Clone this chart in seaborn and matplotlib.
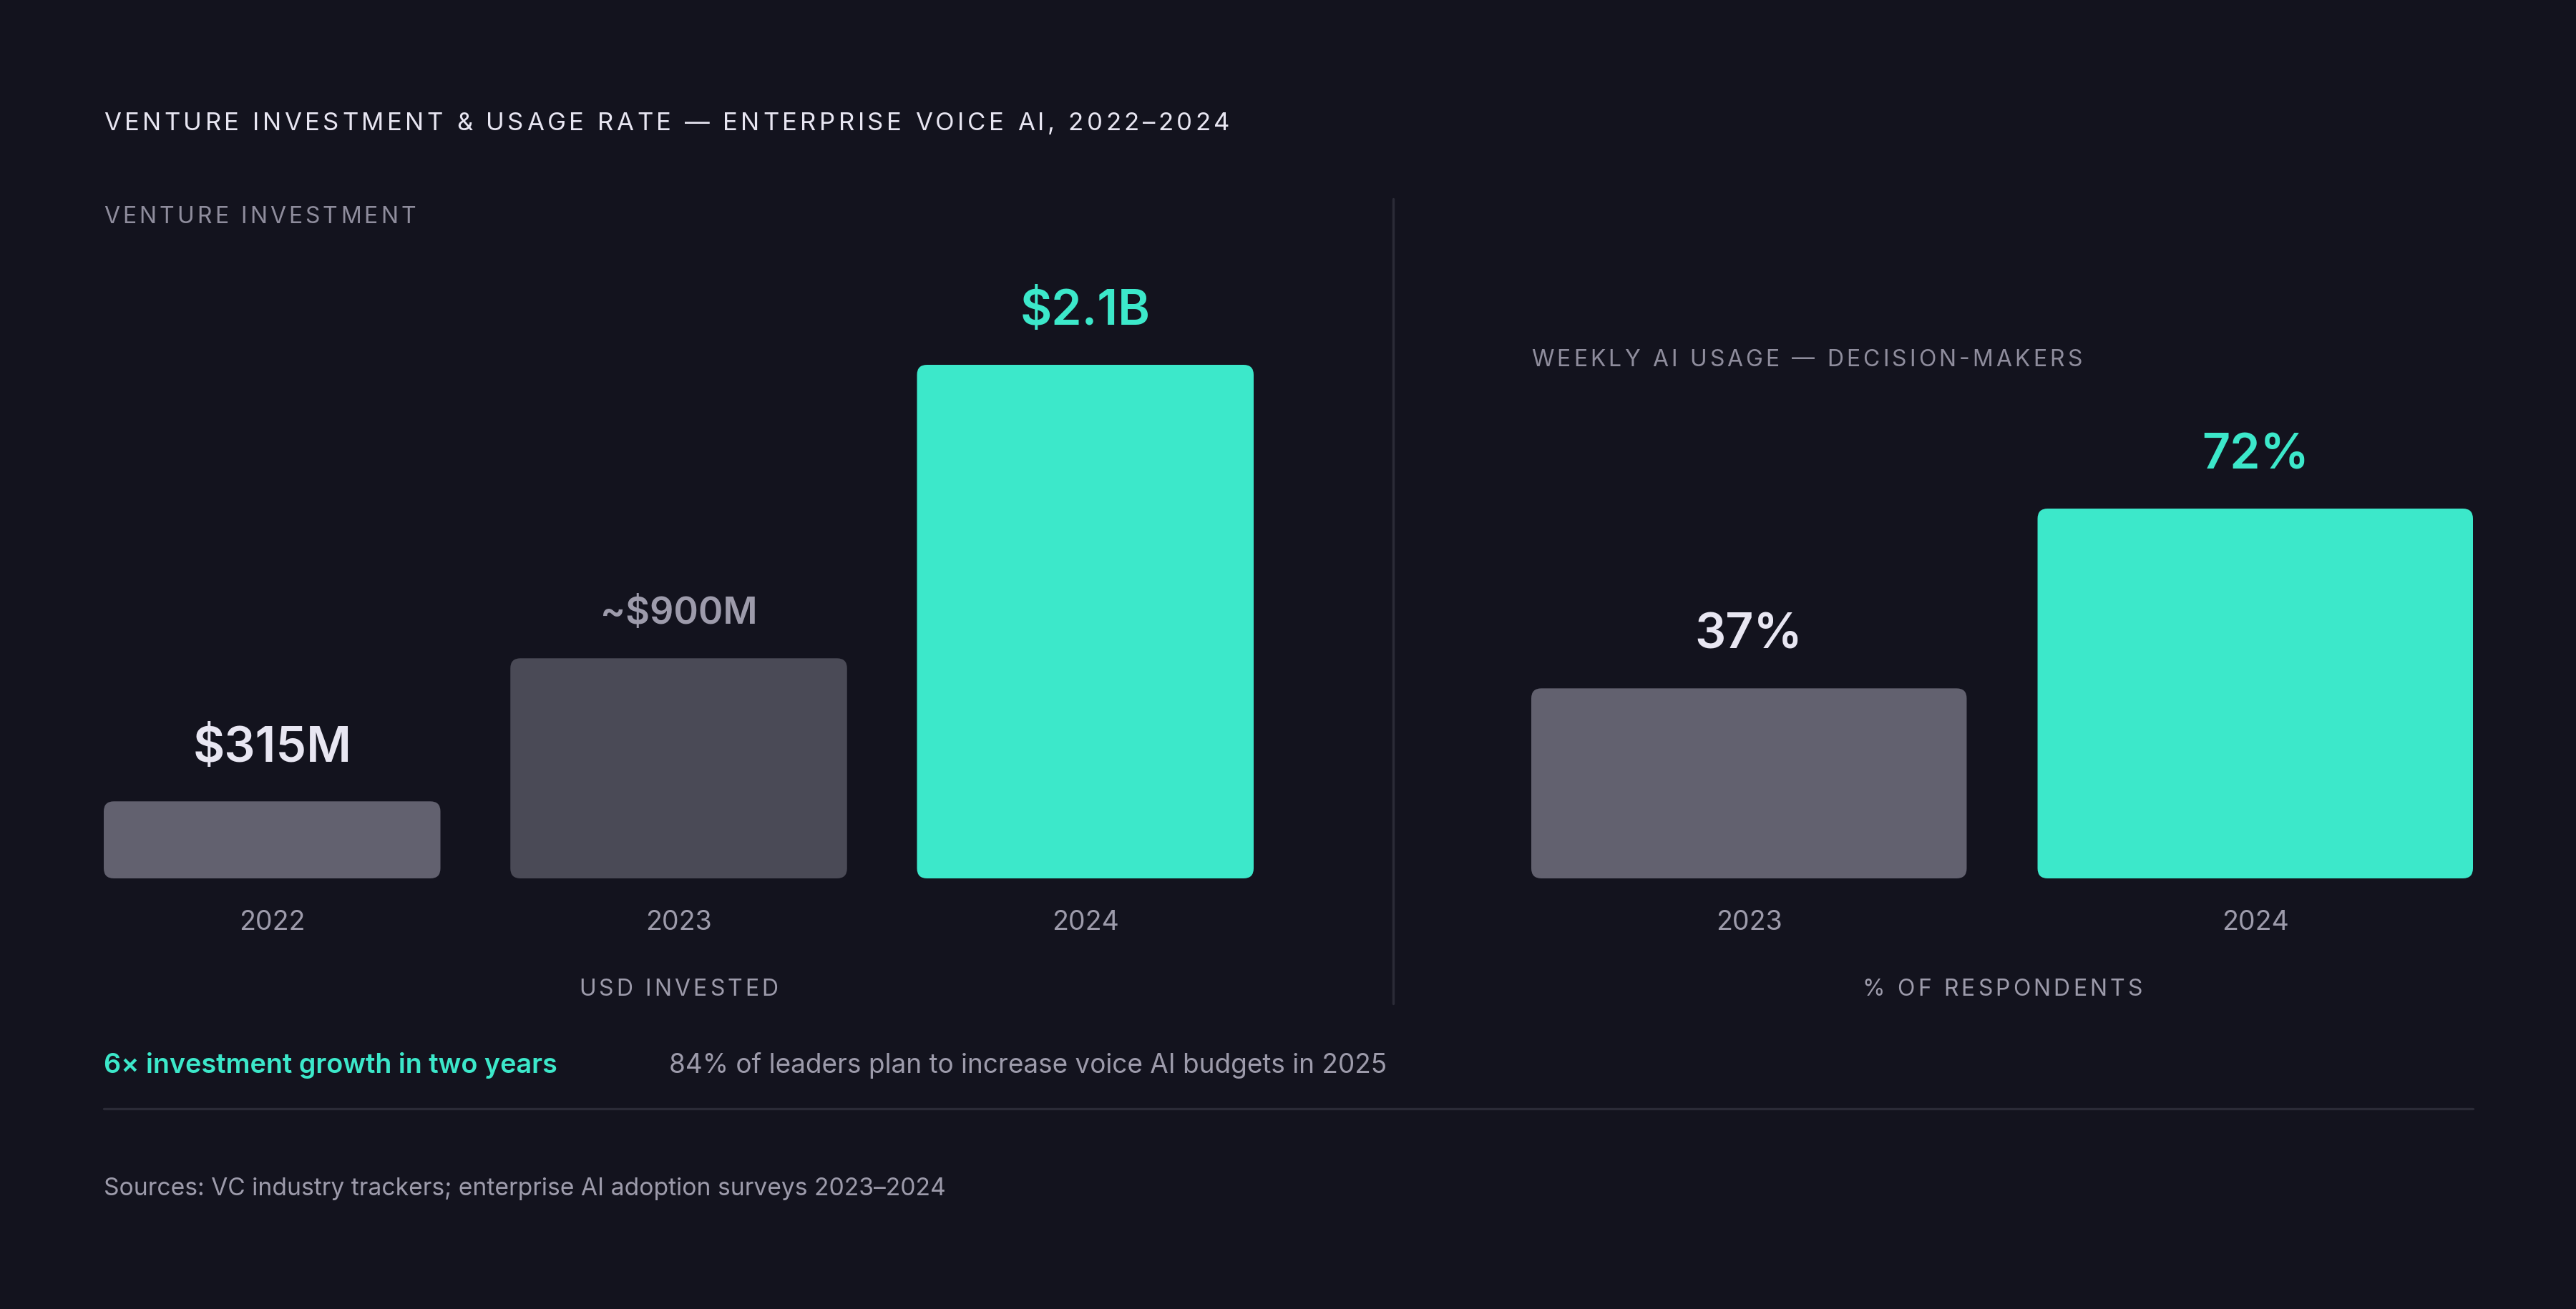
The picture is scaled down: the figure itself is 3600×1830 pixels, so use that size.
import matplotlib
matplotlib.use("Agg")
import matplotlib.pyplot as plt
from matplotlib.patches import FancyBboxPatch
from matplotlib.lines import Line2D
from matplotlib.text import Text
import seaborn as sns

# data
inv_years = ["2022", "2023", "2024"]
inv_values = [315, 900, 2100]          # USD millions
inv_labels = ["$315M", "~$900M", "$2.1B"]

use_years = ["2023", "2024"]
use_values = [37, 72]                  # % of respondents
use_labels = ["37%", "72%"]

# colours
BG = "#13131e"
TEAL = "#3ce8ca"
GREY_BAR = "#62616f"
DARK_BAR = "#4a4a56"
WHITE = "#e8e6f2"
MUTED = "#9d9bab"
SUB = "#8f8d9d"
RULE = "#2b2b37"

sns.set_theme(style="white")
plt.rcParams["font.family"] = ["Inter", "DejaVu Sans"]

W, H, DPI = 3600, 1830, 200
fig = plt.figure(figsize=(W / DPI, H / DPI), dpi=DPI, facecolor=BG)


class TrackedText(Text):
    """Text with letter spacing (tracking in em), drawn glyph by glyph."""

    def __init__(self, x, y, text, tracking=0.13, **kw):
        super().__init__(x, y, text, **kw)
        self._tracking = tracking

    def draw(self, renderer):
        if not self.get_visible():
            return
        full = self.get_text()
        ha = self.get_horizontalalignment()
        pos = self.get_position()
        trans = self.get_transform()
        xd, yd = trans.transform(pos)
        prop = self.get_fontproperties()
        w0 = renderer.get_text_width_height_descent("l", prop, ismath=False)[0]

        def width(s):
            if not s:
                return 0.0
            return renderer.get_text_width_height_descent(s + "l", prop, ismath=False)[0] - w0

        track = self._tracking * renderer.points_to_pixels(prop.get_size_in_points())
        total = width(full) + track * (len(full) - 1)
        start = xd - {"left": 0, "center": total / 2, "right": total}[ha]
        inv = trans.inverted()
        self.set_horizontalalignment("left")
        for i, ch in enumerate(full):
            if ch == " ":
                continue
            self.set_text(ch)
            self.set_position(inv.transform((start + width(full[:i]) + i * track, yd)))
            super().draw(renderer)
        self.set_text(full)
        self.set_position(pos)
        self.set_horizontalalignment(ha)


def tracked(xpx, ypx, s, **kw):
    t = TrackedText(xpx / W, 1 - ypx / H, s, transform=fig.transFigure,
                    va="center", **kw)
    fig.add_artist(t)
    return t


def px_axes(x0, x1, y_top, y_bot):
    return fig.add_axes([x0 / W, 1 - y_bot / H, (x1 - x0) / W, (y_bot - y_top) / H])


ax1 = px_axes(145, 1752, 510, 1228)
ax2 = px_axes(2140, 3456, 510, 1228)


def round_bars(ax, radius_px=14):
    fig.canvas.draw()
    bb = ax.get_window_extent()
    x0, x1 = ax.get_xlim()
    y0, y1 = ax.get_ylim()
    rx = radius_px * (x1 - x0) / bb.width
    ry = radius_px * (y1 - y0) / bb.height
    for p in list(ax.patches):
        x, y = p.get_x(), p.get_y()
        w, h = p.get_width(), p.get_height()
        fc = p.get_facecolor()
        p.remove()
        ax.add_patch(FancyBboxPatch((x, y), w, h,
                                    boxstyle=f"round,pad=0,rounding_size={rx}",
                                    mutation_aspect=ry / rx,
                                    fc=fc, ec="none", lw=0))


def style_axes(ax):
    ax.set_facecolor(BG)
    sns.despine(ax=ax, left=True, bottom=True)
    ax.set_yticks([])
    ax.set_ylabel("")
    ax.set_xlabel("")
    ax.tick_params(axis="x", length=0, pad=16, labelsize=13.5, labelcolor=MUTED)


# left panel: venture investment
bw1 = 0.828
sns.barplot(x=inv_years, y=inv_values, hue=inv_years,
            palette=[GREY_BAR, DARK_BAR, TEAL], saturation=1, legend=False,
            width=bw1, ax=ax1)
ax1.set_xlim(-bw1 / 2, 2 + bw1 / 2)
ax1.set_ylim(0, 2100)
style_axes(ax1)

# right panel: weekly usage
bw2 = 0.86
sns.barplot(x=use_years, y=use_values, hue=use_years,
            palette=[GREY_BAR, TEAL], saturation=1, legend=False,
            width=bw2, ax=ax2)
ax2.set_xlim(-bw2 / 2, 1 + bw2 / 2)
ax2.set_ylim(0, 100)
style_axes(ax2)

round_bars(ax1)
round_bars(ax2)

# value labels
inv_colors = [WHITE, MUTED, TEAL]
inv_sizes = [24.5, 18.8, 24.5]
inv_offsets = [20, 17.5, 20]
for i, (v, lab) in enumerate(zip(inv_values, inv_labels)):
    ax1.annotate(lab, (i, v), xytext=(0, inv_offsets[i]), textcoords="offset points",
                 ha="center", va="baseline", fontsize=inv_sizes[i],
                 fontweight="semibold", color=inv_colors[i])

use_colors = [WHITE, TEAL]
for i, (v, lab) in enumerate(zip(use_values, use_labels)):
    ax2.annotate(lab, (i, v), xytext=(0, 20), textcoords="offset points",
                 ha="center", va="baseline", fontsize=24.5,
                 fontweight="semibold", color=use_colors[i])

# titles and axis captions (letter-spaced)
tracked(145, 173, "VENTURE INVESTMENT & USAGE RATE \u2014 ENTERPRISE VOICE AI, 2022\u20132024",
        fontsize=12.5, color=WHITE, ha="left")
tracked(145, 303, "VENTURE INVESTMENT", fontsize=11.5, color=SUB, ha="left")
tracked(2140, 503, "WEEKLY AI USAGE \u2014 DECISION-MAKERS",
        fontsize=11.5, color=SUB, ha="left")
tracked(948, 1384, "USD INVESTED", fontsize=11.5, color=MUTED, ha="center")
tracked(2798, 1384, "% OF RESPONDENTS", fontsize=11.5, color=MUTED, ha="center")

# divider and rule
fig.add_artist(Line2D([1947 / W, 1947 / W], [1 - 278 / H, 1 - 1403 / H],
                      color=RULE, lw=1.2))
fig.add_artist(Line2D([145 / W, 3456 / W], [1 - 1550 / H, 1 - 1550 / H],
                      color=RULE, lw=1.2))

# callouts
fig.text(145 / W, 1 - 1490 / H, "6\u00d7 investment growth in two years",
         fontsize=13.6, color=TEAL, fontweight="semibold", va="center", ha="left")
fig.text(935 / W, 1 - 1490 / H,
         "84% of leaders plan to increase voice AI budgets in 2025",
         fontsize=13.3, color=MUTED, va="center", ha="left")
fig.text(145 / W, 1 - 1662 / H,
         "Sources: VC industry trackers; enterprise AI adoption surveys 2023\u20132024",
         fontsize=12.1, color=MUTED, va="center", ha="left")

fig.savefig("out.png", dpi=DPI, facecolor=BG)
